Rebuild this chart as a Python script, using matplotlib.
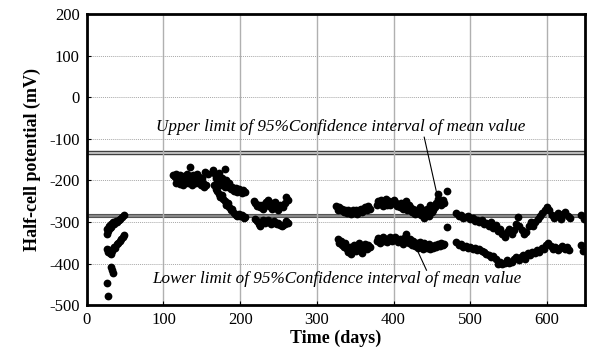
import matplotlib.pyplot as plt
import matplotlib as mpl

mpl.rcParams["font.family"] = ["Liberation Serif", "DejaVu Serif"]
mpl.rcParams["axes.unicode_minus"] = False

# ---- data: half-cell potential readings (upper / lower sensor groups) ----
upper_day = [26, 27, 28, 29, 30, 31, 32, 34, 36, 38, 40, 42, 44, 46, 48,
             113, 115, 116, 118, 119, 120, 121, 123, 124, 125, 127, 128, 130, 131, 133,
             134, 135, 136, 138, 139, 141, 142, 144, 145, 147, 148, 150, 152, 154, 156, 158,
             165, 167, 168, 170, 172, 173, 175, 177, 178, 180, 182, 184, 186, 188, 190,
             192, 194, 196, 198, 200, 202, 204, 206, 180, 172,
             218, 220, 222, 224, 226, 228, 230, 232, 234, 236, 238, 240, 242, 244, 246,
             248, 250, 252, 254, 256, 258, 260, 262,
             325, 327, 329, 331, 333, 335, 337, 339, 341, 343, 345, 347, 349, 351, 353,
             355, 357, 359, 361, 363, 365, 367, 369,
             378, 380, 382, 384, 386, 388, 390, 392, 394, 396, 398, 400, 402, 404, 406,
             408, 410, 412, 414, 416, 418, 420, 422, 424, 426, 428, 430, 432, 434, 436,
             438, 440, 442, 444, 446, 448, 450, 452, 454, 456, 458, 460, 462, 464, 466,
             458, 470, 470,
             482, 485, 488, 491, 494, 497, 500, 503, 506, 509, 512, 515, 518, 521, 524,
             527, 530, 533, 536, 539, 542, 545, 548, 551, 554, 557, 560, 562, 564, 567,
             570, 573, 576, 579, 582, 585, 588, 591, 594, 597, 600, 603, 606, 609, 612,
             615, 618, 621, 624, 627, 630, 645, 648]
upper_mv = [-330, -318, -322, -310, -315, -305, -312, -300, -305, -298, -300, -295, -292, -288, -284,
            -188, -192, -185, -195, -190, -200, -187, -193, -197, -205, -190, -198, -195, -185, -190,
            -200, -167, -193, -188, -196, -190, -200, -185, -195, -192, -200, -195, -205, -180, -210, -185,
            -175, -185, -195, -200, -205, -190, -210, -195, -205, -215, -200, -215, -205, -220, -215,
            -225, -218, -228, -220, -225, -230, -222, -228, -172, -182,
            -250, -255, -262, -258, -265, -260, -268, -258, -252, -246, -262, -255, -268, -260, -252,
            -265, -270, -258, -262, -265, -255, -240, -248,
            -262, -270, -265, -272, -268, -275, -270, -278, -272, -275, -280, -270, -276, -270, -280,
            -272, -268, -275, -270, -265, -270, -262, -268,
            -260, -250, -255, -248, -262, -252, -245, -258, -250, -260, -255, -248, -252, -262, -258,
            -265, -255, -268, -262, -250, -270, -260, -265, -275, -268, -280, -272, -278, -265, -282,
            -270, -290, -275, -268, -285, -260, -275, -270, -265, -255, -245, -250, -260, -248, -255,
            -232, -225, -312,
            -278, -285, -282, -290, -288, -285, -292, -290, -298, -295, -300, -295, -305, -302, -310,
            -300, -315, -308, -322, -318, -330, -335, -325, -318, -330, -320, -305, -288, -310, -320,
            -330, -325, -310, -300, -310, -300, -292, -285, -278, -272, -265, -272, -282, -290, -285,
            -278, -292, -280, -275, -285, -290, -283, -292]

lower_day = [27, 28, 29, 30, 31, 33, 35, 37, 39, 41, 43, 45, 47, 49,
             27, 28, 31, 33, 34,
             117, 122, 126, 132, 137, 143, 149, 153,
             166, 168, 170, 172, 174, 176, 178, 180, 182, 184, 186, 188, 190, 192, 194,
             196, 198, 200, 202, 205, 207,
             220, 222, 224, 226, 228, 230, 232, 234, 236, 238, 240, 242, 244, 246, 248,
             250, 252, 254, 256, 258, 260, 262,
             327, 329, 331, 333, 335, 337, 339, 341, 343, 345, 347, 349, 351, 353, 355,
             357, 359, 361, 363, 365, 367, 369,
             378, 380, 382, 384, 386, 388, 390, 392, 394, 396, 398, 400, 402, 404, 406,
             408, 410, 412, 414, 416, 418, 420, 422, 424, 426, 428, 430, 432, 434, 436,
             438, 440, 442, 444, 446, 448, 450, 452, 454, 456, 458, 460, 462, 464, 466,
             482, 485, 488, 491, 494, 497, 500, 503, 506, 509, 512, 515, 518, 521, 524,
             527, 530, 533, 536, 539, 542, 545, 548, 551, 554, 557, 560, 563, 566, 569,
             572, 575, 578, 581, 584, 587, 590, 593, 596, 599, 602, 605, 608, 611, 614,
             617, 620, 623, 626, 629, 644, 647]
lower_mv = [-365, -372, -368, -375, -378, -370, -360, -362, -352, -350, -345, -340, -336, -332,
            -447, -478, -408, -415, -422,
            -205, -208, -210, -207, -212, -205, -210, -215,
            -210, -220, -225, -232, -240, -235, -245, -250, -258, -255, -265, -270, -268, -278, -282,
            -285, -280, -286, -284, -290, -288,
            -292, -298, -305, -310, -300, -295, -302, -298, -296, -300, -305, -300, -298, -302, -305,
            -303, -307, -310, -308, -305, -298, -302,
            -342, -350, -345, -355, -360, -350, -365, -372, -360, -378, -365, -355, -370, -360, -350,
            -365, -375, -358, -352, -365, -355, -360,
            -345, -338, -350, -342, -335, -345, -340, -348, -342, -336, -345, -340, -335, -342, -348,
            -340, -345, -352, -338, -330, -345, -350, -340, -355, -345, -358, -350, -362, -348, -355,
            -365, -350, -358, -362, -352, -365, -358, -362, -355, -360, -352, -358, -350, -355, -352,
            -348, -355, -352, -360, -358, -362, -360, -365, -362, -368, -365, -370, -372, -378, -380,
            -385, -382, -390, -400, -395, -402, -398, -392, -398, -395, -388, -385, -392, -385, -380,
            -388, -375, -380, -372, -375, -368, -372, -362, -365, -355, -350, -358, -365, -360, -368,
            -362, -358, -365, -360, -368, -355, -370]

# 95% confidence interval of the mean value (upper / lower limits)
upper_limit = (-137, -130)
lower_limit = (-289, -280)

fig, ax = plt.subplots(figsize=(5.9, 3.62), dpi=100)
fig.subplots_adjust(left=0.147, right=0.992, bottom=0.157, top=0.961)

ax.set_xlim(0, 650)
ax.set_ylim(-500, 200)
ax.set_xticks(range(0, 700, 100))
ax.set_yticks(range(-500, 300, 100))

ax.grid(axis="x", color="#b0b0b0", linewidth=1.0, linestyle="-", zorder=0)
ax.grid(axis="y", color="#a8a8a8", linewidth=0.7, linestyle=(0, (1, 1)), zorder=0)

# confidence-interval bands
ax.axhspan(*upper_limit, color="#d8d8d8", zorder=1, lw=0)
for v in upper_limit:
    ax.axhline(v, color="#404040", lw=1.0, zorder=1)
ax.axhspan(*lower_limit, color="#8c8c8c", zorder=1, lw=0)
for v in lower_limit:
    ax.axhline(v, color="#555555", lw=0.8, zorder=1)

ax.plot(upper_day, upper_mv, "o", color="black", ms=5.6, mew=0, zorder=3)
ax.plot(lower_day, lower_mv, "o", color="black", ms=5.6, mew=0, zorder=3)

ax.text(331, -72, "Upper limit of 95%Confidence interval of mean value",
        fontsize=12.3, fontstyle="italic", ha="center", va="center", zorder=4)
ax.plot([440, 456], [-96, -228], color="black", lw=0.8, zorder=4)
ax.text(326, -437, "Lower limit of 95%Confidence interval of mean value",
        fontsize=12.3, fontstyle="italic", ha="center", va="center", zorder=4)
ax.plot([443, 429], [-416, -360], color="black", lw=0.8, zorder=4)

for s in ax.spines.values():
    s.set_linewidth(2.0)
    s.set_color("black")
    s.set_zorder(5)

ax.tick_params(direction="in", length=3, labelsize=12, pad=5)
ax.set_xlabel("Time (days)", fontsize=13, fontweight="bold", labelpad=1)
ax.set_ylabel("Half-cell potential (mV)", fontsize=13, fontweight="bold", labelpad=6)

fig.savefig("out.png", dpi=100, facecolor="white")
